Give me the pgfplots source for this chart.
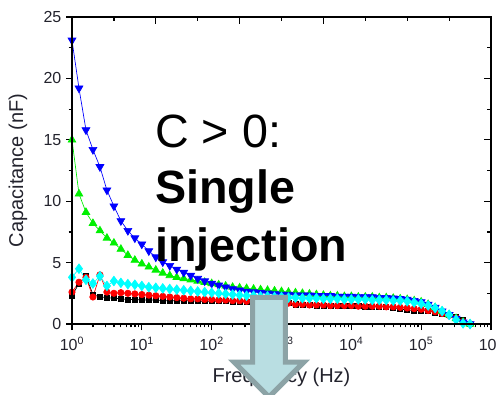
\documentclass[border=0pt]{standalone}
\usepackage{pgfplots}
\usepackage{pgfplotstable}
\pgfplotsset{compat=1.18}
\usepackage{fontspec}
\setmainfont{Liberation Sans}
\definecolor{arrowfill}{RGB}{185,222,226}
\definecolor{arrowedge}{RGB}{140,163,166}
\definecolor{lblcol}{RGB}{35,35,45}
\definecolor{pcyan}{RGB}{0,255,255}
\definecolor{pgreen}{RGB}{0,240,0}
\definecolor{pblue}{RGB}{0,0,255}
\definecolor{pred}{RGB}{255,0,0}
\pgfplotstableread{
f k r g b c
1 2.3 2.6 15.0 23.1 3.8
1.259 3.3 3.4 10.6 19.2 4.5
1.585 3.9 3.8 9.1 15.8 3.6
1.995 2.4 2.2 8.2 14.2 3.3
2.512 2.2 4.0 7.6 12.8 3.9
3.162 2.15 2.6 7.0 10.9 3.1
3.981 2.1 2.5 6.6 9.6 3.5
5.012 2.05 2.55 6.1 8.4 3.35
6.310 2.0 2.5 5.6 7.6 3.25
7.943 2.0 2.45 5.2 7.0 3.2
10 1.95 2.4 4.9 6.5 3.1
12.59 1.95 2.35 4.65 5.95 3.0
15.85 1.95 2.3 4.4 5.45 2.95
19.95 1.9 2.25 4.15 5.05 2.9
25.12 1.9 2.2 3.95 4.75 2.85
31.62 1.9 2.15 3.8 4.45 2.8
39.81 1.9 2.1 3.7 4.2 2.75
50.12 1.9 2.05 3.6 3.95 2.7
63.10 1.85 2.05 3.5 3.7 2.65
79.43 1.85 2.0 3.4 3.5 2.6
100 1.85 2.0 3.3 3.3 2.55
125.9 1.85 1.95 3.2 3.15 2.5
158.5 1.85 1.95 3.1 3.0 2.45
199.5 1.8 1.9 3.0 2.85 2.4
251.2 1.8 1.9 2.95 2.75 2.35
316.2 1.8 1.85 2.9 2.65 2.3
398.1 1.8 1.85 2.85 2.6 2.3
501.2 1.8 1.8 2.8 2.55 2.25
631.0 1.75 1.8 2.75 2.5 2.25
794.3 1.75 1.75 2.7 2.45 2.2
1000 1.75 1.75 2.65 2.4 2.2
1259 1.7 1.7 2.6 2.4 2.15
1585 1.6 1.6 2.55 2.35 2.15
1995 1.55 1.6 2.5 2.35 2.1
2512 1.55 1.55 2.45 2.35 2.1
3162 1.5 1.55 2.4 2.3 2.1
3981 1.5 1.55 2.35 2.3 2.05
5012 1.5 1.5 2.3 2.3 2.05
6310 1.45 1.5 2.3 2.25 2.05
7943 1.45 1.5 2.25 2.25 2.0
10000 1.45 1.5 2.25 2.25 2.0
12590 1.45 1.45 2.2 2.2 2.0
15850 1.4 1.45 2.2 2.2 2.0
19950 1.4 1.45 2.2 2.2 1.95
25120 1.4 1.45 2.15 2.15 1.95
31620 1.4 1.4 2.15 2.15 1.95
39810 1.35 1.4 2.1 2.1 1.9
50120 1.2 1.35 2.05 2.05 1.9
63100 1.15 1.3 2.0 2.0 1.85
79430 1.1 1.25 1.9 1.9 1.75
100000 1.1 1.2 1.8 1.8 1.65
125900 1.05 1.1 1.6 1.6 1.5
158500 0.95 1.0 1.35 1.35 1.3
199500 0.85 0.85 1.05 1.05 1.05
251200 0.75 0.7 0.75 0.75 0.75
316200 0.6 0.5 0.45 0.45 0.35
398100 0.3 0.2 0.15 0.15 0.05
501200 0.0 0.0 0.0 0.0 0.0
}\capdata
\begin{document}
\begin{tikzpicture}
\useasboundingbox (-54pt,-52.5pt) rectangle (318pt,243pt);
\begin{semilogxaxis}[
  at={(0,0)}, anchor=south west,
  scale only axis, width=314.25pt, height=230.25pt,
  xmin=1, xmax=1e6, ymin=0, ymax=25,
  xtick={1,10,100,1000,10000,100000,1000000},
  xticklabels={10\textsuperscript{0},10\textsuperscript{1},10\textsuperscript{2},10\textsuperscript{3},10\textsuperscript{4},10\textsuperscript{5},10\textsuperscript{6}},
  minor xtick={2,3,4,5,6,7,8,9,20,30,40,50,60,70,80,90,200,300,400,500,600,700,800,900,2000,3000,4000,5000,6000,7000,8000,9000,20000,30000,40000,50000,60000,70000,80000,90000,200000,300000,400000,500000,600000,700000,800000,900000},
  ytick={0,5,10,15,20,25},
  yticklabels={0,5,10,15,20,25},
  minor ytick={2.5,7.5,12.5,17.5,22.5},
  xtick pos=left, ytick pos=left,
  tick align=outside,
  major tick length=4.5pt, minor tick length=2.5pt,
  axis line style={line width=1.2pt},
  every tick/.style={black, line width=0.9pt},
  ticklabel style={font=\fontsize{12}{14}\selectfont, text=lblcol},
  xticklabel style={yshift=-2pt},
  xlabel={Frequency (Hz)}, ylabel={Capacitance (nF)},
  label style={font=\fontsize{15}{18}\selectfont, text=lblcol},
  xlabel style={at={(axis description cs:0.5,-0.1726)}, anchor=center},
  ylabel style={at={(axis description cs:-0.1289,0.5)}, anchor=center},
]
\addplot[black, line width=0.5pt, mark=square*, mark size=1.9pt, mark options={solid, fill=black}] table[x=f, y=k] {\capdata};
\addplot[pred, line width=0.5pt, mark=*, mark size=2.4pt, mark options={solid, fill=pred}] table[x=f, y=r] {\capdata};
\addplot[pgreen, line width=0.5pt, mark=triangle*, mark size=3.3pt, mark options={solid, fill=pgreen}] table[x=f, y=g] {\capdata};
\addplot[pblue, line width=0.5pt, mark=triangle*, mark size=3.4pt, mark options={solid, fill=pblue, rotate=180}] table[x=f, y=b] {\capdata};
\addplot[pcyan, line width=0.5pt, mark=diamond*, mark size=3.6pt, mark options={solid, fill=pcyan}] table[x=f, y=c] {\capdata};
\end{semilogxaxis}
\begin{axis}[
  at={(0,0)}, anchor=south west,
  scale only axis, width=314.25pt, height=230.25pt,
  xmin=0, xmax=10, ymin=0, ymax=25,
  xtick={0,2,4,6}, minor xtick={1,3,5,7,8,9},
  ytick={0,5,10,15,20,25}, minor ytick={2.5,7.5,12.5,17.5,22.5},
  xtick pos=right, ytick pos=right,
  tick align=inside,
  xticklabels={}, yticklabels={},
  major tick length=5.5pt, minor tick length=3pt,
  axis line style={line width=1.2pt},
  every tick/.style={black, line width=0.9pt},
]
\end{axis}
\node[anchor=base west, inner sep=0pt, font=\fontsize{35}{42}\selectfont] at (62.25pt,132.75pt) {C > 0:};
\node[anchor=base west, inner sep=0pt, font=\fontsize{35}{42}\selectfont\bfseries] at (62.25pt,90.75pt) {Single};
\node[anchor=base west, inner sep=0pt, font=\fontsize{35}{42}\selectfont\bfseries] at (62.25pt,47.25pt) {injection};
\draw[fill=arrowfill, draw=arrowedge, line width=3.75pt, line join=miter]
  (135.4pt,19.9pt) -- (160.1pt,19.9pt) -- (160.1pt,-28.5pt) -- (174pt,-28.5pt)
  -- (147.75pt,-54.75pt) -- (121.5pt,-28.5pt) -- (135.4pt,-28.5pt) -- cycle;
\end{tikzpicture}
\end{document}
